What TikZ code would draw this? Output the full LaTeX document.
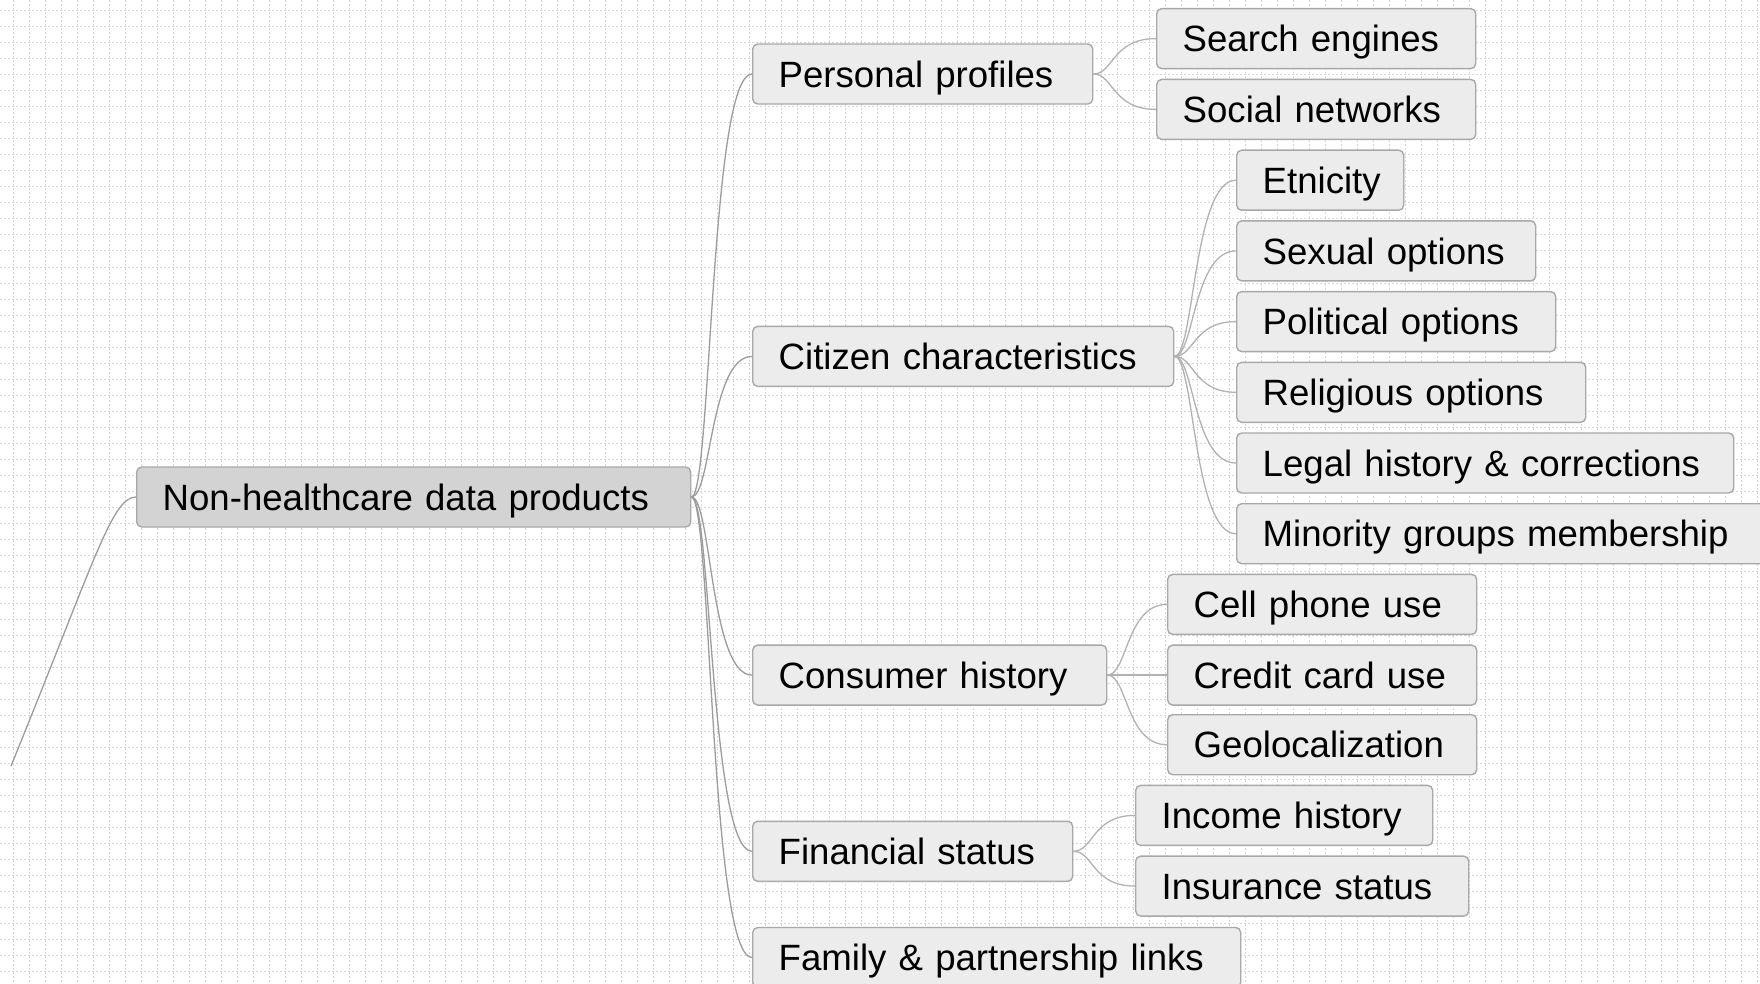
\documentclass[tikz,border=0pt]{standalone}
\usepackage{fontspec}
\setmainfont{Liberation Sans}
\definecolor{gridc}{HTML}{D8D8D8}
\definecolor{boxline}{HTML}{A8A8A8}
\definecolor{childfill}{HTML}{ECECEC}
\definecolor{rootfill}{HTML}{D3D3D3}
\definecolor{edgec}{HTML}{B2B2B2}
\definecolor{rootedge}{HTML}{9C9C9C}
\begin{document}
\begin{tikzpicture}[x=1pt,y=-1pt,
  gridline/.style={draw=gridc, line width=1pt, dash pattern=on 2pt off 2pt},
  box/.style={draw=boxline, line width=1.4pt, rounded corners=5pt, fill=childfill,
    anchor=west, minimum height=60pt, inner xsep=26pt, inner ysep=0pt,
    text height=26.5pt, text depth=0pt, align=left,
    font=\fontsize{36.6}{44}\selectfont},
  rootbox/.style={box, fill=rootfill},
  link/.style={draw=edgec, line width=1.3pt},
  rootlink/.style={draw=rootedge, line width=1.3pt},
]
\useasboundingbox (0,0) rectangle (1760,984);
\clip (0,0) rectangle (1760,984);
\fill[white] (0,0) rectangle (1760,984);
\foreach \x in {13,29,...,1760} \draw[gridline] (\x,0) -- (\x,984);
\foreach \y in {11,27,...,984} \draw[gridline] (0,\y) -- (1760,\y);

% nodes
\node[rootbox, text width=502pt] (root) at (136,497) {Non-healthcare data products};

\node[box, text width=288pt] (pp) at (752,74) {Personal profiles};
\node[box, text width=267pt] (se) at (1156,38.6) {Search engines};
\node[box, text width=267pt] (sn) at (1156,109.4) {Social networks};

\node[box, text width=369pt] (cc) at (752,356.4) {Citizen characteristics};
\node[box, text width=115pt] (et) at (1236,180.2) {Etnicity};
\node[box, text width=247pt] (sx) at (1236,250.9) {Sexual options};
\node[box, text width=267pt] (po) at (1236,321.6) {Political options};
\node[box, text width=297pt] (re) at (1236,392.3) {Religious options};
\node[box, text width=445pt] (le) at (1236,463) {Legal history \& corrections};
\node[box, text width=478pt] (mi) at (1236,533.7) {Minority groups membership};

\node[box, text width=302pt] (ch) at (752,675.1) {Consumer history};
\node[box, text width=257pt] (cp) at (1167,604.4) {Cell phone use};
\node[box, text width=257pt] (cr) at (1167,675.1) {Credit card use};
\node[box, text width=257pt] (ge) at (1167,744.7) {Geolocalization};

\node[box, text width=268pt] (fs) at (752,851.3) {Financial status};
\node[box, text width=245pt] (ih) at (1135,815.4) {Income history};
\node[box, text width=281pt] (is) at (1135,886.1) {Insurance status};

\node[box, text width=436pt] (fa) at (752,957.5) {Family \& partnership links};

% connectors
\coordinate (src) at (11,766);
\draw[rootlink] (src) .. controls (95,560) and (112,497) .. (root.west);
\foreach \c in {pp,cc,ch,fs,fa}
  \draw[rootlink] (root.east) .. controls +(20,0) and +(-42,0) .. (\c.west);
\foreach \c in {se,sn}
  \draw[link] (pp.east) .. controls +(20,0) and +(-44,0) .. (\c.west);
\foreach \c in {et,sx,po,re,le,mi}
  \draw[link] (cc.east) .. controls +(20,0) and +(-43,0) .. (\c.west);
\foreach \c in {cp,cr,ge}
  \draw[link] (ch.east) .. controls +(20,0) and +(-41,0) .. (\c.west);
\foreach \c in {ih,is}
  \draw[link] (fs.east) .. controls +(20,0) and +(-43,0) .. (\c.west);
\end{tikzpicture}
\end{document}
